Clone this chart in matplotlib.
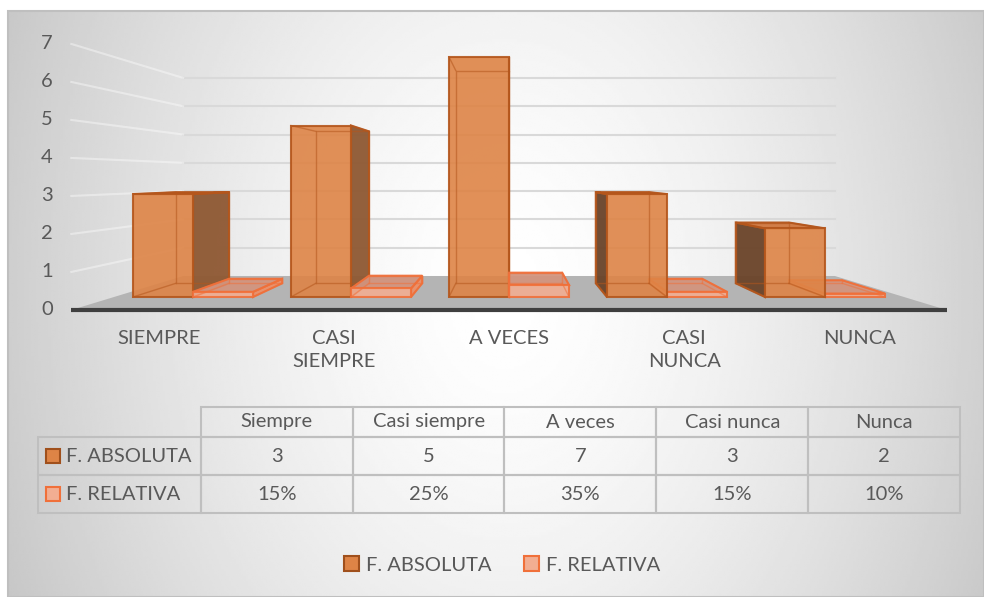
import numpy as np
import matplotlib
matplotlib.use("Agg")
import matplotlib.pyplot as plt
from matplotlib.patches import Polygon, Rectangle, Patch

plt.rcParams['font.family'] = ['Lato', 'DejaVu Sans']

categories = ['SIEMPRE', 'CASI\nSIEMPRE', 'A VECES', 'CASI\nNUNCA', 'NUNCA']
table_cols = ['Siempre', 'Casi siempre', 'A veces', 'Casi nunca', 'Nunca']
series = ['F. ABSOLUTA', 'F. RELATIVA']
f_absoluta = [3, 5, 7, 3, 2]
f_relativa = [0.15, 0.25, 0.35, 0.15, 0.10]
y_ticks = [0, 1, 2, 3, 4, 5, 6, 7]

TXT = '#595959'
FS = 14.5
ABS_FACE, ABS_EDGE, ABS_TOP = '#DE8446', '#B4561C', '#D07840'
ABS_SIDE_R, ABS_SIDE_L = '#8E5832', '#6A4329'
REL_FACE, REL_EDGE, REL_TOP, REL_SIDE = '#F2AE92', '#F0703A', '#D2957F', '#EC8F68'

W, H = 984, 597
# pixel layout of the front plane (category units / value units)
PX0, PXU, PY0, PYU = 193, 158, 297, 34.3

# simple perspective: vanishing point and depth scales
VP = (2.0, 3.5)
S_FRONT, S_BACK = 1.0, 0.886
S_FLOOR, S_WALL = 1.108, 0.825


def proj(x, v, s):
    return VP[0] + (x - VP[0]) * s, VP[1] + (v - VP[1]) * s


fig = plt.figure(figsize=(W / 100, H / 100), dpi=100)

# background radial gradient
bg = fig.add_axes([8 / W, 0, (W - 8) / W, (H - 11) / H])
gx, gy = np.meshgrid(np.linspace(8, W, 400), np.linspace(11, H, 240))
r = np.sqrt(((gx - 505) / 530) ** 2 + ((gy - 290) / 720) ** 2)
val = 1 - 0.21 * np.clip(r, 0, 1.2) ** 1.5
bg.imshow(val, cmap='gray', vmin=0, vmax=1, aspect='auto', interpolation='bilinear')
bg.axis('off')

ax = fig.add_axes([0, 0, 1, 1])
ax.patch.set_alpha(0)
ax.set_xlim(-PX0 / PXU, (W - PX0) / PXU)
ax.set_ylim((PY0 - H) / PYU, PY0 / PYU)
ax.axis('off')

ax.add_patch(Rectangle((8 / W, 0), (W - 8) / W, (H - 11) / H, transform=ax.transAxes,
                       fill=False, edgecolor='#BFBFBF', lw=1.5, zorder=1))

n = len(categories)
x0, x1 = -0.5, n - 0.5

# floor
floor = [proj(x0, 0, S_FLOOR), proj(x1, 0, S_FLOOR), proj(x1, 0, S_WALL), proj(x0, 0, S_WALL)]
ax.add_patch(Polygon(floor, closed=True, facecolor='#B4B4B4', edgecolor='none', zorder=2))

# gridlines on back wall and side wall
for v in y_ticks[1:]:
    a, b = proj(x0, v, S_WALL), proj(x1, v, S_WALL)
    ax.plot([a[0], b[0]], [a[1], b[1]], color='#D9D9D9', lw=1.5, zorder=2)
    c = proj(x0, v, S_FLOOR)
    ax.plot([c[0], a[0]], [c[1], a[1]], color='white', lw=1.5, alpha=0.4, zorder=2)

# front axis line
a, b = proj(x0, 0, S_FLOOR), proj(x1, 0, S_FLOOR)
ax.plot([a[0], b[0]], [a[1], b[1]], color='#3F3F3F', lw=3, solid_capstyle='butt', zorder=3)

# y tick labels
for v in y_ticks:
    ax.text((47 - PX0) / PXU, proj(0, v, S_FLOOR)[1], str(v), ha='center', va='center',
            fontsize=FS, color=TXT)

# category labels
for i, lab in enumerate(categories):
    ax.text(proj(i, 0, S_FLOOR)[0], (PY0 - 330) / PYU, lab, ha='center', va='top',
            fontsize=FS, color=TXT, linespacing=1.45)

# bars
pos = np.arange(n)
bw = 0.38
abs_bars = ax.bar(pos - bw / 2, f_absoluta, width=bw, color=ABS_FACE, alpha=0.9,
                  edgecolor=ABS_EDGE, lw=1.5)
rel_bars = ax.bar(pos + bw / 2, f_relativa, width=bw, color=REL_FACE, alpha=0.9,
                  edgecolor=REL_EDGE, lw=1.5)

boxes = []
for i in range(n):
    boxes.append((pos[i] - bw, pos[i], f_absoluta[i], abs_bars[i], 'abs'))
    boxes.append((pos[i], pos[i] + bw, f_relativa[i], rel_bars[i], 'rel'))
boxes.sort(key=lambda b: -abs((b[0] + b[1]) / 2 - VP[0]))

for k, (bx0, bx1, h, bar, kind) in enumerate(boxes):
    z = 10 + k
    edge = ABS_EDGE if kind == 'abs' else REL_EDGE
    top_c = ABS_TOP if kind == 'abs' else REL_TOP
    if (bx0 + bx1) / 2 < VP[0]:
        sx = bx1
        side_c = ABS_SIDE_R if kind == 'abs' else REL_SIDE
    else:
        sx = bx0
        side_c = ABS_SIDE_L if kind == 'abs' else REL_SIDE
    side = [proj(sx, 0, S_FRONT), proj(sx, 0, S_BACK), proj(sx, h, S_BACK), proj(sx, h, S_FRONT)]
    ax.add_patch(Polygon(side, closed=True, facecolor=side_c, edgecolor=edge, lw=1.5,
                         alpha=0.95, zorder=z))
    if h < VP[1]:
        top = [proj(bx0, h, S_FRONT), proj(bx1, h, S_FRONT), proj(bx1, h, S_BACK),
               proj(bx0, h, S_BACK)]
        ax.add_patch(Polygon(top, closed=True, facecolor=top_c, edgecolor=edge, lw=1.5,
                             alpha=0.95, zorder=z + 0.1))
    bar.set_zorder(z + 0.2)
    # hidden edges seen through the translucent faces
    back = [proj(bx0, 0, S_BACK), proj(bx1, 0, S_BACK), proj(bx1, h, S_BACK),
            proj(bx0, h, S_BACK), proj(bx0, 0, S_BACK)]
    ax.plot([p[0] for p in back], [p[1] for p in back], color=edge, lw=1.0, alpha=0.55,
            zorder=z + 0.3)
    for xx in (bx0, bx1):
        for hh in (0, h):
            p, q = proj(xx, hh, S_FRONT), proj(xx, hh, S_BACK)
            ax.plot([p[0], q[0]], [p[1], q[1]], color=edge, lw=1.0, alpha=0.55, zorder=z + 0.3)

# data table; first column holds the series names
cell_text = [[series[0]] + [str(v) for v in f_absoluta],
             [series[1]] + [f'{p:.0%}' for p in f_relativa]]
tbl = ax.table(cellText=cell_text, colLabels=[''] + table_cols, cellLoc='center',
               bbox=[38 / W, (H - 513) / H, 922 / W, 106 / H])
tbl.auto_set_font_size(False)
tbl.set_fontsize(FS)
for (rr, cc), cell in tbl.get_celld().items():
    cell.set_edgecolor('#BFBFBF')
    cell.set_linewidth(1.5)
    cell.set_facecolor('none')
    cell.get_text().set_color(TXT)
    cell.set_width(163 / W if cc == 0 else 152 / W)
    cell.set_height(30 / H if rr == 0 else 38 / H)
    if cc == 0:
        cell.get_text().set_horizontalalignment('left')
        cell.PAD = 28 / 163
tbl[0, 0].visible_edges = 'open'

marker_style = [(ABS_FACE, '#A0501C'), (REL_FACE, REL_EDGE)]
for (fc, ec), yc in zip(marker_style, [456, 494]):
    ax.add_patch(Rectangle((46 / W, (H - yc - 7) / H), 14 / W, 14 / H, transform=ax.transAxes,
                           facecolor=fc, edgecolor=ec, lw=1.5, zorder=20))

handles = [Patch(facecolor=fc, edgecolor=ec, lw=1.5) for fc, ec in marker_style]
fig.legend(handles, series, loc='center', bbox_to_anchor=(0.51, (H - 565) / H), ncol=2,
           frameon=False, handlelength=0.75, handleheight=0.75, handletextpad=0.35,
           columnspacing=1.6, fontsize=FS, labelcolor=TXT)

fig.savefig('out.png', dpi=100)
